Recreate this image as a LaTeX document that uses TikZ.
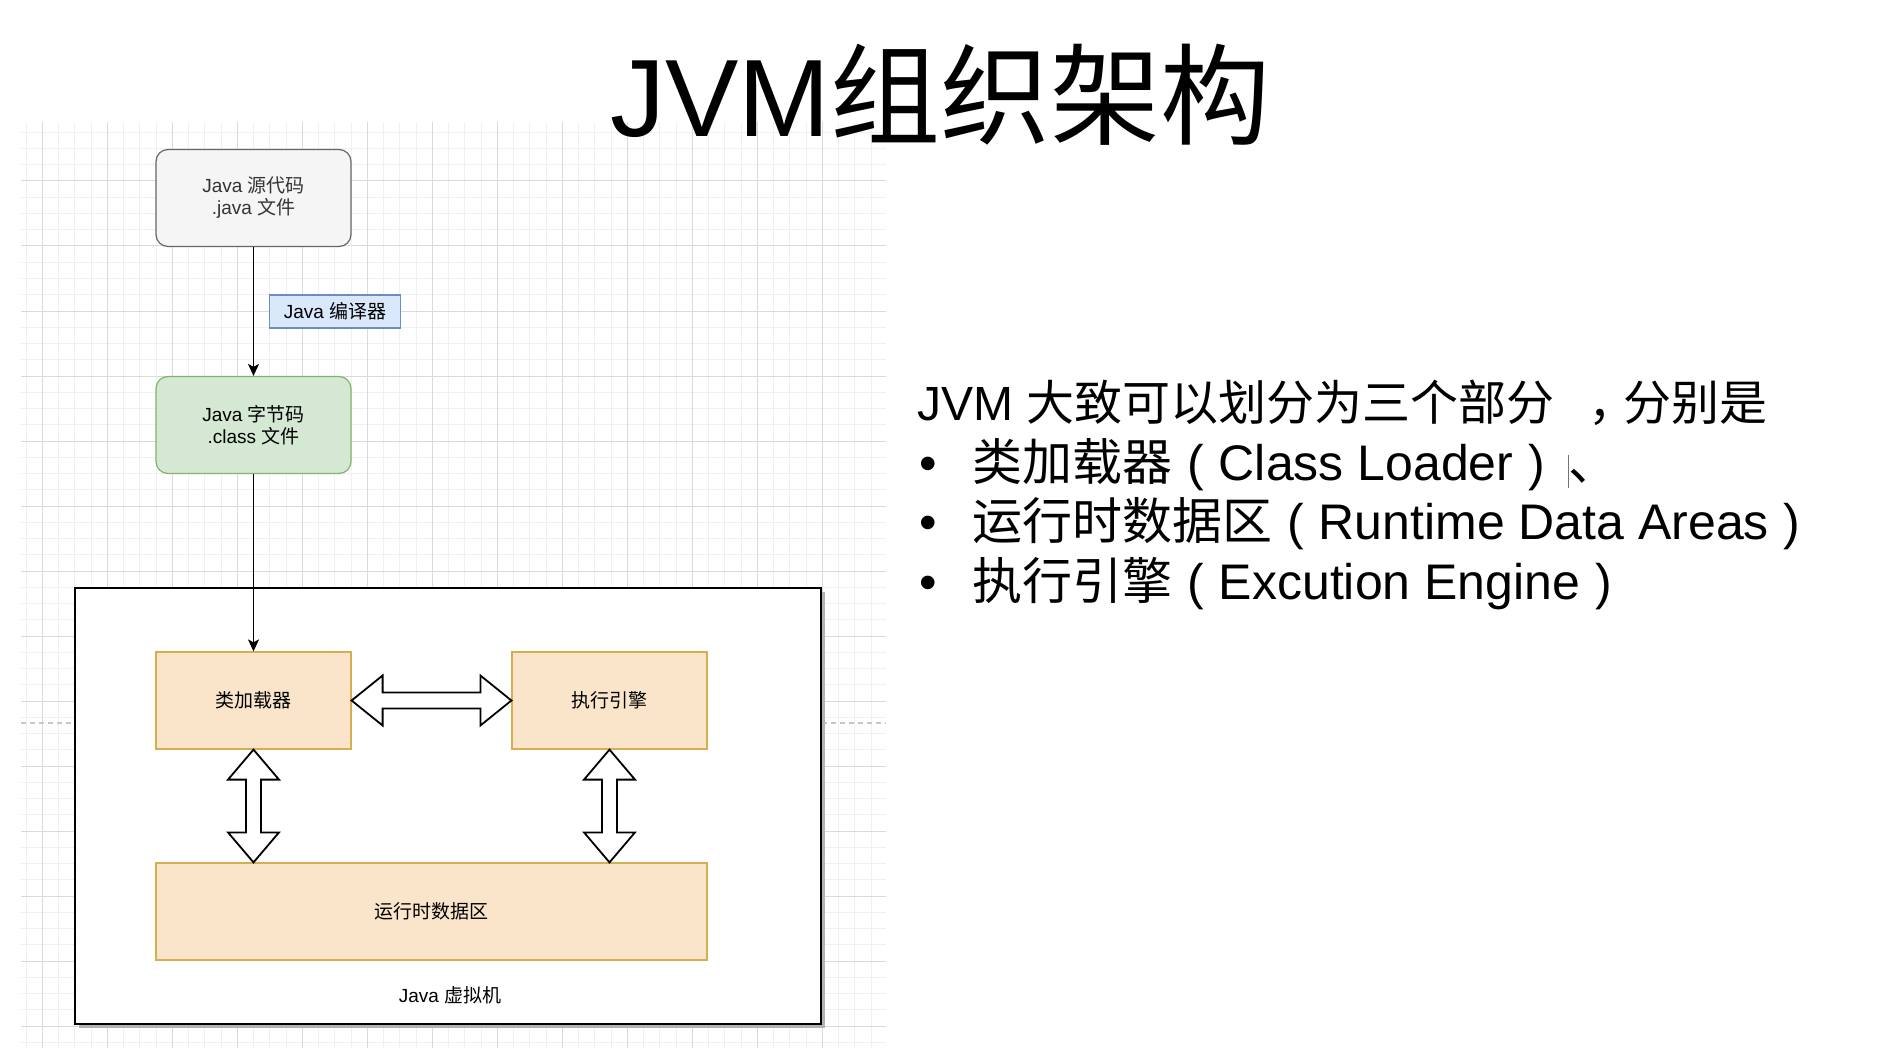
\documentclass[tikz,border=0pt]{standalone}
\usepackage{fontspec}
\setmainfont{Liberation Sans}
\newfontfamily\cjk{Noto Sans CJK SC}
\usepackage{tikz}
\usetikzlibrary{arrows.meta}
\usetikzlibrary{calc}
\usetikzlibrary{shadows}

\definecolor{gridminor}{HTML}{F0F0F0}
\definecolor{gridmajor}{HTML}{DADADA}
\definecolor{srcfill}{HTML}{F5F5F5}
\definecolor{srcline}{HTML}{666666}
\definecolor{bcfill}{HTML}{D5E8D4}
\definecolor{bcline}{HTML}{82B366}
\definecolor{jcfill}{HTML}{DAE8FC}
\definecolor{jcline}{HTML}{6C8EBF}
\definecolor{partfill}{HTML}{FAE5CB}
\definecolor{partline}{HTML}{D6AE52}

\newcommand{\zh}[1]{{\cjk #1}}
\newcommand{\lp}{\hspace{.3em}(\hspace{.3em}}
\newcommand{\rp}{\hspace{.3em})}

\begin{document}
\begin{tikzpicture}[x=1pt,y=-1pt]
		\tikzset{box/.style = {draw, line width=1.2pt, minimum width=195, minimum height=97, align=center, font=\fontsize{19}{22}\selectfont}}
		\tikzset{part/.style = {box, fill=partfill, draw=partline}}
		\tikzset{flow/.style = {-{Stealth[length=12pt,width=11pt,inset=3pt]}, line width=1.5pt}}
		\tikzset{blockarrow/.style = {draw=black, fill=white, line width=1.8pt, line join=miter}}
		\tikzset{slide/.style = {anchor=base west, inner sep=0, font=\fontsize{50}{56}\selectfont}}
		\useasboundingbox (0,0) rectangle (1881,1059);
		\fill[white] (0,0) rectangle (1881,1059);
		% grid
		\foreach \k in {0,...,52}
			\draw[gridminor, line width=1pt] (26.05+16.25*\k,122) -- (26.05+16.25*\k,1048);
		\foreach \k in {0,...,56}
			\draw[gridminor, line width=1pt] (21,132.25+16.25*\k) -- (886,132.25+16.25*\k);
		\foreach \k in {0,...,12}
			\draw[gridmajor, line width=1pt] (42.3+65*\k,122) -- (42.3+65*\k,1048);
		\foreach \k in {1,...,14}
			\draw[gridmajor, line width=1pt] (21,116+65*\k) -- (886,116+65*\k);
		\draw[black!22, line width=1.5pt, dash pattern=on 5pt off 4pt] (21,723) -- (886,723);
		% title and text
		\node[anchor=base, inner sep=0, font=\fontsize{110}{110}\selectfont] (title) at (940,137) {JVM\zh{组织架构}};
		\node[slide, font=\fontsize{48}{56}\selectfont] (intro) at (917,420) {JVM \zh{大致可以划分为三个部分\hspace{.7em}，\hspace{-.27em}分别是}};
		\node[slide] (item1) at (919,480) {\makebox[53pt][l]{\textbullet}\zh{类加载器}\lp Class Loader\rp\hspace{.45em}{\color{black!55}\rule[-8pt]{1pt}{33pt}}\zh{、}};
		\node[slide] (item2) at (919,539) {\makebox[53pt][l]{\textbullet}\zh{运行时数据区}\lp Runtime Data Areas\rp};
		\node[slide] (item3) at (919,599) {\makebox[53pt][l]{\textbullet}\zh{执行引擎}\lp Excution Engine\rp};
		% vertices
		\node[draw=black, line width=1.8pt, fill=white, minimum width=746, minimum height=436,
			drop shadow={shadow xshift=4pt, shadow yshift=-4pt, fill=black!30, opacity=1}] (jvm) at (448,806) {};
		\node[box, rounded corners=12, fill=srcfill, draw=srcline, text=black!80] (src) at (253.5,198) {Java \zh{源代码}\\.java \zh{文件}};
		\node[box, rounded corners=12, fill=bcfill, draw=bcline] (bytecode) at (253.5,425) {Java \zh{字节码}\\.class \zh{文件}};
		\node[part] (loader) at (253.5,700.5) {\zh{类加载器}};
		\node[part] (engine) at (609.5,700.5) {\zh{执行引擎}};
		\node[part, minimum width=551] (runtime) at (431.5,911.5) {\zh{运行时数据区}};
		\node[font=\fontsize{19}{22}\selectfont] (jvmname) at ($(jvm.south)+(2,-30)$) {Java \zh{虚拟机}};
		% edges
		\draw[flow] (src) -- (bytecode) node[midway, right=15.5pt, draw=jcline, fill=jcfill, line width=1.2pt, minimum width=131, minimum height=33, font=\fontsize{19}{22}\selectfont] (javac) {Java \zh{编译器}};
		\draw[flow] (bytecode) -- (loader);
		\draw[blockarrow] (loader.east) -- ++(31,-25) -- ++(0,17) -- ($(engine.west)+(-31,-8)$) -- ++(0,-17) -- (engine.west)
			-- ++(-31,25) -- ++(0,-17) -- ($(loader.east)+(31,8)$) -- ++(0,17) -- cycle;
		\draw[blockarrow] (loader.south) -- ++(25.5,30) -- ++(-18,0) -- ($(loader.south |- runtime.north)+(7.5,-30)$) -- ++(18,0) -- (loader.south |- runtime.north)
			-- ++(-25.5,-30) -- ++(18,0) -- ($(loader.south)+(-7.5,30)$) -- ++(-18,0) -- cycle;
		\draw[blockarrow] (engine.south) -- ++(25.5,30) -- ++(-18,0) -- ($(engine.south |- runtime.north)+(7.5,-30)$) -- ++(18,0) -- (engine.south |- runtime.north)
			-- ++(-25.5,-30) -- ++(18,0) -- ($(engine.south)+(-7.5,30)$) -- ++(-18,0) -- cycle;
\end{tikzpicture}
\end{document}
